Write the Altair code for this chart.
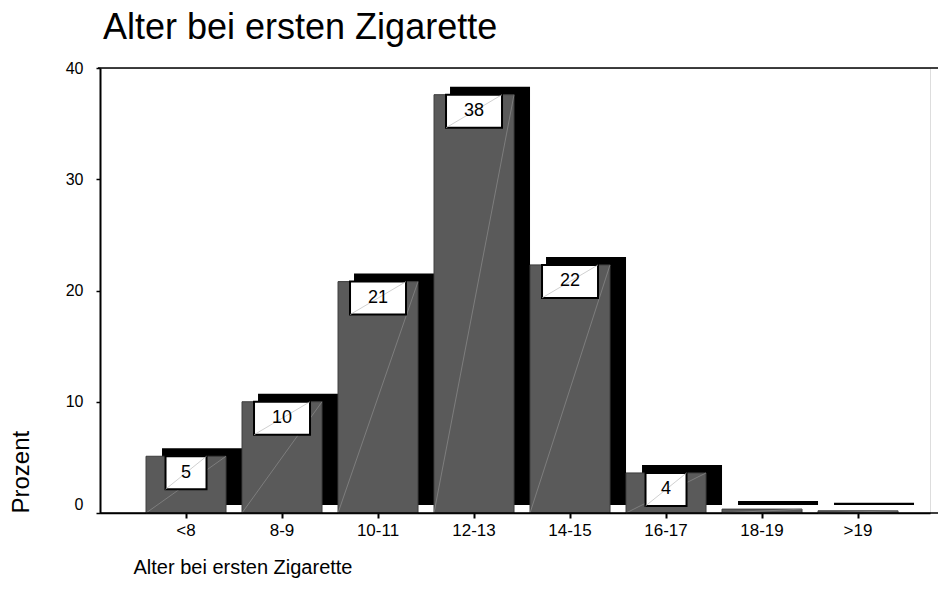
import altair as alt
import pandas as pd

categories = ["<8", "8-9", "10-11", "12-13", "14-15", "16-17", "18-19", ">19"]
percent = [5.1, 10.0, 20.8, 37.6, 22.3, 3.6, 0.35, 0.2]
labels = ["5", "10", "21", "38", "22", "4", "", ""]
y_ticks = [0, 10, 20, 30, 40]

df = pd.DataFrame({"cat": categories, "val": percent, "label": labels})

FONT = "Liberation Sans"
W, H = 830, 445
RP = 8

xenc = alt.X("cat:N", sort=categories,
             scale=alt.Scale(paddingInner=1/6, paddingOuter=0.40625, align=0.59),
             axis=alt.Axis(title="Alter bei ersten Zigarette", labelAngle=0,
                           labelFontSize=17, labelFont=FONT, labelColor="black",
                           labelPadding=4, tickSize=5, tickWidth=2, tickColor="black",
                           domainColor="black", domainWidth=1.5,
                           titleFont=FONT, titleFontSize=20, titleFontWeight="normal",
                           titleColor="black", titleAnchor="start", titleAlign="left",
                           titleBaseline="middle", titleX=33, titleY=54))
yscale = alt.Scale(domain=[0, 40], nice=False)
yenc = alt.Y("val:Q", scale=yscale,
             axis=alt.Axis(title="Prozent", values=y_ticks, grid=False,
                           labelFontSize=16, labelFont=FONT, labelColor="black",
                           labelPadding=13, tickSize=4, tickWidth=1.5, tickColor="black",
                           domainColor="black", domainWidth=2,
                           labelOffset={"condition": {"test": "datum.value === 0", "value": -9}, "value": 0},
                           titleFont=FONT, titleFontSize=24, titleFontWeight="normal",
                           titleColor="black", titleAngle=270, titleAlign="left",
                           titleBaseline="middle", titleX=-79, titleY=445))

base = alt.Chart(df).transform_calculate(zero="0")

shadow = base.mark_bar(color="black", xOffset=16, yOffset=-8, y2Offset=-8).encode(
    x=xenc, y=yenc, y2=alt.Y2("zero:Q"))
bars = base.mark_bar(color="#5a5a5a", stroke="#3c3c3c", strokeWidth=1).encode(
    x=xenc, y=yenc, y2=alt.Y2("zero:Q"))
bar_diag = base.mark_rule(color="#8c8c8c", strokeWidth=0.7, xOffset=40, x2Offset=-40).encode(
    x=xenc, x2=alt.X2("cat:N"), y=yenc, y2=alt.Y2("zero:Q"))

layers = [shadow, bars, bar_diag]
for n, w in [(1, 41), (2, 56)]:
    sub = base.transform_filter(f"length(datum.label) == {n}")
    box = sub.mark_bar(width=w, color="white", stroke="black", strokeWidth=2,
                       yOffset=33, y2Offset=0).encode(x=xenc, y=yenc, y2=alt.Y2("val:Q"))
    diag = sub.mark_rule(color="#bbbbbb", strokeWidth=0.7, xOffset=-w/2, x2Offset=w/2,
                         yOffset=33, y2Offset=0).encode(x=xenc, x2=alt.X2("cat:N"), y=yenc, y2=alt.Y2("val:Q"))
    layers += [box, diag]

text = base.transform_filter("length(datum.label) > 0").mark_text(
    yOffset=16.5, baseline="middle", align="center", fontSize=18, font=FONT, color="black"
).encode(x=xenc, y=yenc, text="label:N")
layers.append(text)

top_line = alt.Chart(pd.DataFrame({"a": [0]})).mark_rule(color="black", strokeWidth=1.5).encode(
    x=alt.value(-2), x2=alt.value(W + RP), y=alt.value(0))
bottom_line = alt.Chart(pd.DataFrame({"a": [0]})).mark_rule(color="black", strokeWidth=1.5).encode(
    x=alt.value(0), x2=alt.value(W + RP), y=alt.value(H))
layers += [top_line, bottom_line]

chart = alt.layer(*layers).properties(
    width=W, height=H,
    title=alt.TitleParams("Alter bei ersten Zigarette", anchor="start", frame="group",
                          font=FONT, fontSize=36, fontWeight="normal", color="black",
                          offset=13, dx=3),
    autosize=alt.AutoSizeParams(type="none"),
    padding={"left": 92, "top": 60, "right": RP, "bottom": 70},
).configure_view(strokeWidth=0).configure(background="white")

chart.save("out.html", embed_options={"renderer": "svg", "actions": False})
